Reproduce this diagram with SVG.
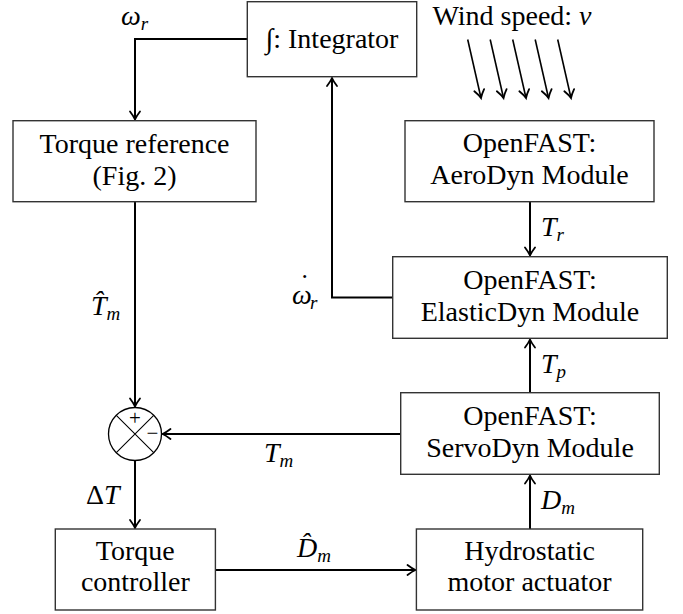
<svg xmlns="http://www.w3.org/2000/svg" width="683" height="614" viewBox="0 0 683 614" font-family="'Liberation Serif', 'DejaVu Serif', 'Times New Roman', serif">
<defs>
<style>
.box{fill:#fff;stroke:#333;stroke-width:1.4}
.t{font-size:28px;fill:#000;text-anchor:middle}
.m{font-size:28px;font-style:italic;fill:#000}
.sub{font-size:19px}
.up{font-style:normal}
.c{fill:none;stroke:#000;stroke-width:2;marker-end:url(#ah)}
.w{fill:none;stroke:#000;stroke-width:1.6;marker-end:url(#ah)}
.sum{fill:#fff;stroke:#000;stroke-width:1.3}
</style>
<marker id="ah" markerUnits="userSpaceOnUse" markerWidth="16" markerHeight="16" viewBox="-10 -8 12 16" refX="0" refY="0" orient="auto">
<path d="M-8,-5 Q-3,-1.2 0,0 Q-3,1.2 -8,5" fill="none" stroke="#000" stroke-width="1.8" stroke-linecap="round"/>
</marker>
</defs>

<g id="connectors">
<path class="c" d="M247.3,39 H135 V119.5"/>
<path class="c" d="M392.7,297.5 H332 V78"/>
<path class="c" d="M530,201.7 V255.5"/>
<path class="c" d="M530,392.7 V339.5"/>
<path class="c" d="M530,529 V475.5"/>
<path class="c" d="M400.7,434 H162.5"/>
<path class="c" d="M135,202 V406.5"/>
<path class="c" d="M135,460.5 V528"/>
<path class="c" d="M215.4,570 H415.5"/>
<g id="wind-arrows">
<path class="w" d="M467.7,39.5 L481,98"/>
<path class="w" d="M490.2,39.5 L503.5,98"/>
<path class="w" d="M512.7,39.5 L526,98"/>
<path class="w" d="M535.2,39.5 L548.5,98"/>
<path class="w" d="M557.7,39.5 L571,98"/>
</g>
</g>

<g id="integrator">
<rect class="box" x="247.3" y="1.7" width="169.4" height="75"/>
<text class="t" x="332" y="48">∫: Integrator</text>
</g>

<g id="wind-label">
<text class="t" x="512" y="25">Wind speed: <tspan font-style="italic">v</tspan></text>
</g>

<g id="torque-reference">
<rect class="box" x="13" y="120.7" width="243" height="81"/>
<text class="t" x="134.5" y="152.5">Torque reference</text>
<text class="t" x="134.5" y="184.5">(Fig. 2)</text>
</g>

<g id="aerodyn">
<rect class="box" x="405" y="120.7" width="249" height="81"/>
<text class="t" x="529.5" y="152">OpenFAST:</text>
<text class="t" x="529.5" y="184">AeroDyn Module</text>
</g>

<g id="elasticdyn">
<rect class="box" x="392.7" y="256.7" width="274.6" height="81.6"/>
<text class="t" x="530" y="288.5">OpenFAST:</text>
<text class="t" x="530" y="320.5">ElasticDyn Module</text>
</g>

<g id="servodyn">
<rect class="box" x="400.7" y="392.7" width="258.6" height="81.6"/>
<text class="t" x="530" y="425">OpenFAST:</text>
<text class="t" x="530" y="457">ServoDyn Module</text>
</g>

<g id="summing-junction">
<circle class="sum" cx="135" cy="434" r="26.5"/>
<path d="M116.3,415.3 L153.7,452.7 M153.7,415.3 L116.3,452.7" stroke="#000" stroke-width="1.1" fill="none"/>
<text class="t" x="135" y="425" style="font-size:21px">+</text>
<text class="t" x="152.5" y="440" style="font-size:21px">−</text>
</g>

<g id="torque-controller">
<rect class="box" x="55.3" y="529" width="160.1" height="81"/>
<text class="t" x="135.3" y="560">Torque</text>
<text class="t" x="135.3" y="591">controller</text>
</g>

<g id="hydrostatic">
<rect class="box" x="416.4" y="529" width="226.3" height="81"/>
<text class="t" x="529.6" y="560">Hydrostatic</text>
<text class="t" x="529.6" y="591">motor actuator</text>
</g>

<g id="labels">
<text class="m" x="121" y="25">ω<tspan class="sub" dy="5">r</tspan></text>
<text class="m" x="541" y="236">T<tspan class="sub" dy="5">r</tspan></text>
<text class="m" x="292" y="304">ω<tspan x="303" y="293" text-anchor="middle">˙</tspan><tspan class="sub" x="310" y="309">r</tspan></text>
<text class="m" x="91" y="315">T̂<tspan class="sub" dy="5">m</tspan></text>
<text class="m" x="541" y="373">T<tspan class="sub" dy="5">p</tspan></text>
<text class="m" x="264" y="462">T<tspan class="sub" dy="5">m</tspan></text>
<text class="m" x="86" y="504"><tspan class="up">Δ</tspan>T</text>
<text class="m" x="297" y="557">D̂<tspan class="sub" dy="5">m</tspan></text>
<text class="m" x="541" y="509">D<tspan class="sub" dy="5">m</tspan></text>
</g>
</svg>
